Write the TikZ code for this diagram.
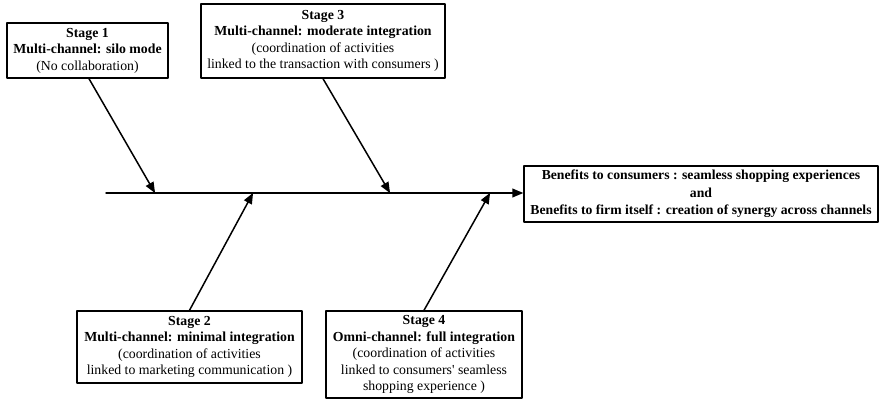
\documentclass[tikz,border=0pt]{standalone}
\usepackage{fontspec}
\setmainfont{Liberation Serif}
\usetikzlibrary{arrows}

\begin{document}
\begin{tikzpicture}[line cap=round,line join=round,>=triangle 45,x=1.0pt,y=1.0pt,
		stagebox/.style={draw,line width=1.4pt,align=center,inner sep=1pt,font=\fontsize{13.8}{16.5}\selectfont},
		bone/.style={->,line width=1.5pt}]
		\useasboundingbox (0,0) rectangle (880,400);
		% boxes of the stages
		\node[stagebox,minimum width=161,minimum height=55] (stageA) at (87.5,349.5)
			{\textbf{Stage 1}\\ \textbf{Multi-channel: silo mode}\\ (No collaboration)};
		\node[stagebox,minimum width=244,minimum height=74] (stageC) at (323,359)
			{\textbf{Stage 3}\\ \textbf{Multi-channel: moderate integration}\\ (coordination of activities\\ linked to the transaction with consumers~)};
		\node[stagebox,minimum width=225,minimum height=72] (stageB) at (189.5,53)
			{\textbf{Stage 2}\\ \textbf{Multi-channel: minimal integration}\\ (coordination of activities\\ linked to marketing communication~)};
		\node[stagebox,minimum width=196,minimum height=87] (stageD) at (424,45.5)
			{\textbf{Stage 4}\\ \textbf{Omni-channel: full integration}\\ (coordination of activities\\ linked to consumers\textquotesingle\ seamless\\ shopping experience~)};
		\node[stagebox,line width=1.6pt,minimum width=354,minimum height=56,font=\bfseries\fontsize{13.7}{17.5}\selectfont] (benefit) at (701,206)
			{Benefits to consumers : seamless shopping experiences\\ and\\ Benefits to firm itself : creation of synergy across channels};
		% spine
		\coordinate (tail) at (106,207);
		\draw[bone] (tail) -- (benefit.west|-tail);
		\coordinate (hitA) at (155,207);
		\coordinate (hitB) at (253,207);
		\coordinate (hitC) at (390,207);
		\coordinate (hitD) at (490,207);
		\draw[bone] (stageA.south-|89,0) -- (hitA);
		\draw[bone] (stageC.south) -- (hitC);
		\draw[bone] (stageB.north) -- (hitB);
		\draw[bone] (stageD.north) -- (hitD);
	\end{tikzpicture}
\end{document}
